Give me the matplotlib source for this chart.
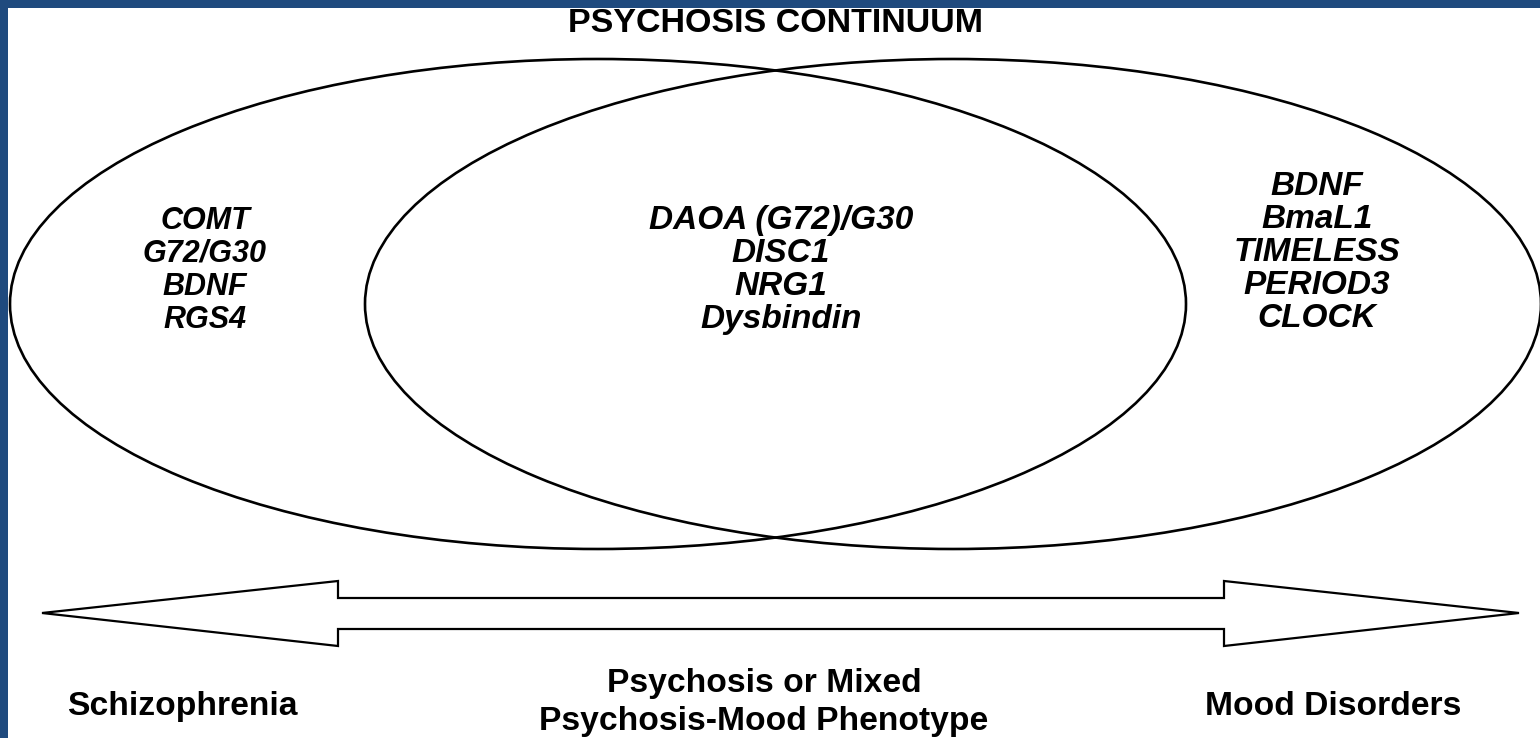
import matplotlib
matplotlib.use("Agg")
import matplotlib.pyplot as plt
from matplotlib.patches import Ellipse, Polygon, Rectangle

# labels
title = "PSYCHOSIS CONTINUUM"
schizo_genes = ["COMT", "G72/G30", "BDNF", "RGS4"]
shared_genes = ["DAOA (G72)/G30", "DISC1", "NRG1", "Dysbindin"]
mood_genes = ["BDNF", "BmaL1", "TIMELESS", "PERIOD3", "CLOCK"]
bottom_left = "Schizophrenia"
bottom_mid = ["Psychosis or Mixed", "Psychosis-Mood Phenotype"]
bottom_right = "Mood Disorders"

W, H = 1540, 738
border = "#1f4a7e"
font = "Liberation Sans"

fig = plt.figure(figsize=(W / 100, H / 100), dpi=100)
ax = fig.add_axes([0, 0, 1, 1])
ax.set_xlim(0, W)
ax.set_ylim(H, 0)
ax.axis("off")

# two overlapping ellipses
for cx in (598, 953):
    ax.add_patch(Ellipse((cx, 304), 1176, 490, fill=False, lw=1.9, ec="black"))

# double headed block arrow
arrow = [(42, 613), (338, 581), (338, 598), (1224, 598), (1224, 581),
         (1519, 613), (1224, 646), (1224, 629), (338, 629), (338, 646)]
ax.add_patch(Polygon(arrow, closed=True, fill=False, lw=1.6, ec="black", joinstyle="miter"))

ax.text(776, 32, title, ha="center", va="baseline", fontsize=24.5,
        fontweight="bold", family=font)

def gene_block(names, x, y0, size, step=33):
    for i, n in enumerate(names):
        ax.text(x, y0 + i * step, n, ha="center", va="baseline", fontsize=size,
                fontweight="bold", style="italic", family=font)

gene_block(schizo_genes, 205, 229, 22)
gene_block(shared_genes, 781, 229, 24)
gene_block(mood_genes, 1317, 195, 24)

ax.text(182, 715, bottom_left, ha="center", va="baseline", fontsize=24.2,
        fontweight="bold", family=font)
ax.text(764, 692, bottom_mid[0], ha="center", va="baseline", fontsize=24.2,
        fontweight="bold", family=font)
ax.text(764, 730, bottom_mid[1], ha="center", va="baseline", fontsize=24.2,
        fontweight="bold", family=font)
ax.text(1333, 715, bottom_right, ha="center", va="baseline", fontsize=24.2,
        fontweight="bold", family=font)

# frame strips on the left and top
ax.add_patch(Rectangle((0, 0), 8, H, color=border, zorder=10, lw=0))
ax.add_patch(Rectangle((0, 0), W, 8, color=border, zorder=10, lw=0))

fig.savefig("out.png", dpi=100)
